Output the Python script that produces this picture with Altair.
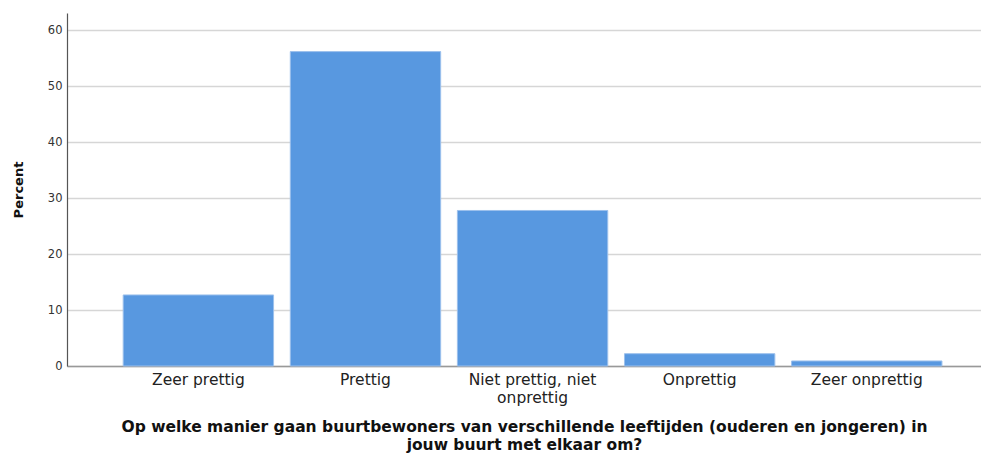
import altair as alt
import pandas as pd

categories = ["Zeer prettig", "Prettig", "Niet prettig, niet onprettig", "Onprettig", "Zeer onprettig"]
percent = [12.7, 56.2, 27.8, 2.2, 0.9]
y_ticks = [0, 10, 20, 30, 40, 50, 60]
x_title = ["Op welke manier gaan buurtbewoners van verschillende leeftijden (ouderen en jongeren) in",
           "jouw buurt met elkaar om?"]

df = pd.DataFrame({"cat": categories, "pct": percent})

label_expr = "datum.value == 'Niet prettig, niet onprettig' ? ['Niet prettig, niet', 'onprettig'] : datum.value"

chart = alt.Chart(df).mark_bar(
    color="#5898E0", stroke="#9CC0EC", strokeWidth=1
).encode(
    x=alt.X("cat:N", sort=categories,
            scale=alt.Scale(paddingInner=0.1, paddingOuter=0.285, align=0.59),
            axis=alt.Axis(title=x_title, labelAngle=0, labelExpr=label_expr,
                          labelFont="DejaVu Sans", labelFontSize=15.5, labelColor="#222222",
                          labelPadding=6, labelLineHeight=18, tickSize=0, ticks=False,
                          domainColor="#999999", domainWidth=1.5,
                          titleFont="DejaVu Sans", titleFontSize=15.5, titleFontWeight="bold",
                          titleColor="#111111", titlePadding=14, titleLineHeight=18)),
    y=alt.Y("pct:Q", scale=alt.Scale(domain=[0, 63.1], nice=False),
            axis=alt.Axis(title="Percent", values=y_ticks, grid=True, gridColor="#D6D6D6",
                          gridWidth=1.5, tickSize=0, ticks=False,
                          labelFont="DejaVu Sans", labelFontSize=11.5, labelColor="#333333",
                          labelPadding=5, domainColor="#555555", domainWidth=1.2,
                          titleFont="DejaVu Sans", titleFontSize=13, titleFontWeight="bold",
                          titleColor="#111111", titlePadding=22))
).properties(
    width=914, height=353,
    autosize=alt.AutoSizeParams(type="none"),
    padding={"left": 59, "top": 5, "right": 0, "bottom": 92}
).configure_view(stroke=None)

chart.save("out.html", embed_options={"renderer": "svg", "actions": False})
